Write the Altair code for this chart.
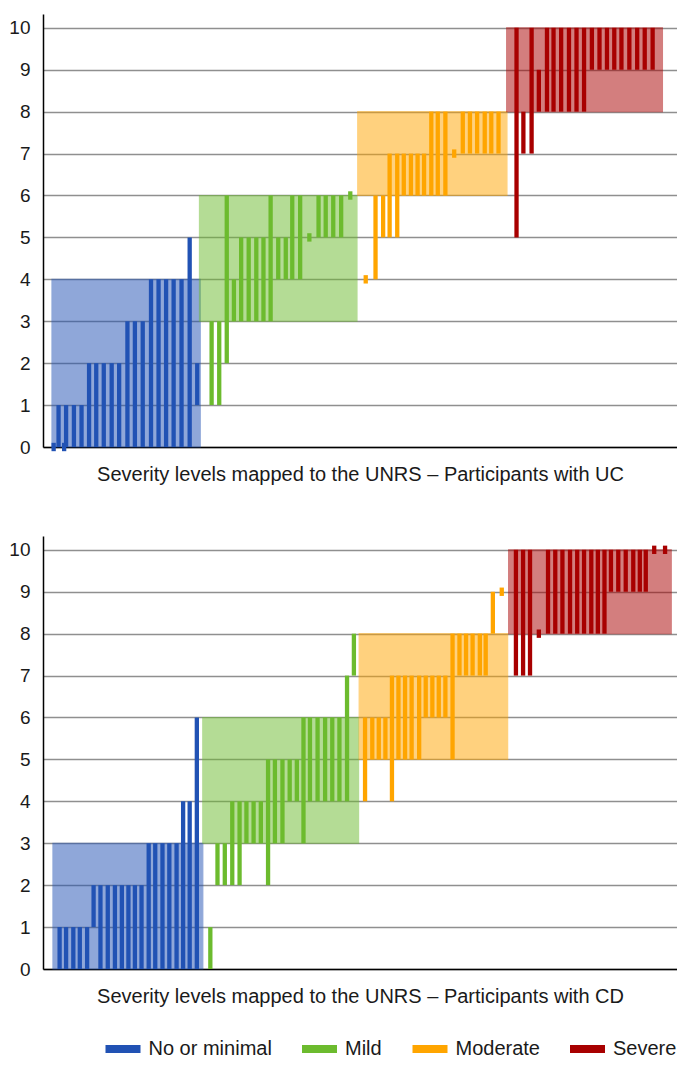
import altair as alt
import pandas as pd

SEVERITY = ["No or minimal", "Mild", "Moderate", "Severe"]
COLORS = ["#2152B4", "#6CBB2E", "#FFA500", "#A80000"]

# --- Participants with UC: position on x, lowest / highest UNRS score ---
UC_NONE_X = [0.35, 1.0, 1.74, 2.0, 3.04, 4.05, 5.05, 6.0, 7.0, 8.05, 9.04,
             10.14, 11.13, 12.17, 13.27, 14.27, 15.27, 16.27, 17.32, 18.4, 19.4]
UC_NONE_LO = [0, 0, 0, 0, 0, 0, 0, 0, 0, 0, 0, 0, 0, 0, 0, 0, 0, 0, 0, 0, 1]
UC_NONE_HI = [0, 1, 0, 1, 1, 1, 2, 2, 2, 2, 2, 3, 3, 3, 4, 4, 4, 4, 4, 5, 2]

UC_MILD_X = [21.31, 22.32, 23.32, 24.27, 25.23, 26.23, 27.24, 28.19, 29.14, 30.15,
             31.15, 32.01, 33.06, 34.28, 35.5, 36.45, 37.45, 38.5, 39.71]
UC_MILD_LO = [1, 1, 2, 3, 3, 3, 3, 3, 3, 4, 4, 4, 4, 5, 5, 5, 5, 5, 6]
UC_MILD_HI = [3, 3, 6, 4, 5, 5, 5, 5, 6, 5, 5, 6, 6, 5, 6, 6, 6, 6, 6]

UC_MOD_X = [41.76, 43.06, 44.07, 44.93, 45.94, 46.81, 47.76, 48.64, 49.5, 50.46,
            51.32, 52.33, 53.5, 54.64, 55.59, 56.54, 57.55, 58.42, 59.38]
UC_MOD_LO = [4, 4, 5, 5, 5, 6, 6, 6, 6, 6, 6, 6, 7, 7, 7, 7, 7, 7, 7]
UC_MOD_HI = [4, 6, 6, 7, 7, 7, 7, 7, 7, 8, 8, 8, 7, 8, 8, 8, 8, 8, 8]

UC_SEV_X = [61.77, 62.68, 63.77, 64.73, 65.81, 66.68, 67.69, 68.73, 69.73, 70.73,
            71.77, 72.78, 73.77, 74.74, 75.69, 76.74, 77.78, 78.78, 79.83]
UC_SEV_LO = [5, 7, 7, 8, 8, 8, 8, 8, 8, 8, 9, 9, 9, 9, 9, 9, 9, 9, 9]
UC_SEV_HI = [10, 8, 10, 9, 10, 10, 10, 10, 10, 10, 10, 10, 10, 10, 10, 10, 10, 10, 10]

# shaded severity bands (x from, x to, UNRS from, UNRS to)
UC_BAND_X0 = [0.13, 19.7, 40.7, 60.46]
UC_BAND_X1 = [19.8, 40.6, 60.5, 81.13]
UC_BAND_LO = [0, 3, 6, 8]
UC_BAND_HI = [4, 6, 8, 10]

# --- Participants with CD ---
CD_NONE_X = [1.14, 2.0, 2.96, 3.82, 4.79, 5.65, 6.56, 7.53, 8.48, 9.4, 10.27,
             11.13, 12.01, 12.96, 13.83, 14.79, 15.7, 16.66, 17.53, 18.4, 19.35]
CD_NONE_LO = [0, 0, 0, 0, 0, 1, 0, 0, 0, 0, 0, 0, 0, 0, 0, 0, 0, 0, 0, 0, 0]
CD_NONE_HI = [1, 1, 1, 1, 1, 2, 2, 2, 2, 2, 2, 2, 2, 3, 3, 3, 3, 3, 4, 4, 6]

CD_MILD_X = [21.14, 22.09, 23.06, 24.05, 25.02, 25.93, 26.88, 27.84, 28.8, 29.71, 30.71,
             31.67, 32.62, 33.5, 34.36, 35.37, 36.37, 37.32, 38.27, 39.28, 40.19]
CD_MILD_LO = [0, 2, 2, 2, 2, 3, 3, 3, 2, 3, 3, 4, 4, 3, 4, 4, 4, 4, 4, 4, 7]
CD_MILD_HI = [1, 3, 3, 4, 4, 4, 4, 4, 5, 5, 5, 5, 5, 6, 6, 6, 6, 6, 6, 7, 8]

CD_MOD_X = [41.67, 42.63, 43.49, 44.37, 45.24, 46.1, 46.98, 47.85, 48.85, 49.72, 50.6,
            51.45, 52.33, 53.28, 54.2, 55.07, 55.94, 56.9, 57.68, 58.63, 59.81]
CD_MOD_LO = [4, 5, 5, 5, 4, 5, 5, 5, 5, 6, 6, 6, 6, 5, 7, 7, 7, 7, 7, 8, 9]
CD_MOD_HI = [6, 6, 6, 6, 7, 7, 7, 7, 7, 7, 7, 7, 7, 8, 8, 8, 8, 8, 8, 9, 9]

CD_SEV_X = [61.69, 62.64, 63.56, 64.73, 65.95, 66.91, 67.86, 68.87, 69.82, 70.73, 71.69,
            72.56, 73.44, 74.3, 75.27, 76.26, 77.26, 78.13, 78.92, 80.04, 81.48]
CD_SEV_LO = [7, 7, 7, 8, 8, 8, 8, 8, 8, 8, 8, 8, 8, 9, 9, 9, 9, 9, 9, 10, 10]
CD_SEV_HI = [10, 10, 10, 8, 10, 10, 10, 10, 10, 10, 10, 10, 10, 10, 10, 10, 10, 10, 10, 10, 10]

CD_BAND_X0 = [0.26, 20.14, 40.89, 60.72]
CD_BAND_X1 = [20.14, 40.81, 60.59, 82.3]
CD_BAND_LO = [0, 3, 5, 8]
CD_BAND_HI = [3, 6, 8, 10]

UC_TITLE = "Severity levels mapped to the UNRS \u2013 Participants with UC"
CD_TITLE = "Severity levels mapped to the UNRS \u2013 Participants with CD"

FONT = "Liberation Sans"
TEXT = "#1a1a1a"


def bars_frame(groups):
    rows = []
    for sev, xs, los, his in groups:
        for x, lo, hi in zip(xs, los, his):
            if lo == hi:
                # single score: small block centred on the value
                lo, hi = lo - 0.1, hi + 0.1
            rows.append({"pos": x, "lo": lo, "hi": hi, "sev": sev})
    return pd.DataFrame(rows)


def bands_frame(x0, x1, lo, hi):
    return pd.DataFrame({"x0": x0, "x1": x1, "lo": lo, "hi": hi, "sev": SEVERITY})


def panel(bars, bands, caption, show_legend):
    xscale = alt.Scale(domain=[-0.4, 82.4], nice=False, zero=False)
    yscale = alt.Scale(domain=[0, 10.33], nice=False)
    color = alt.Scale(domain=SEVERITY, range=COLORS)
    xaxis = alt.Axis(title=caption, labels=False, ticks=False, grid=False,
                     domainColor="black", domainWidth=1.5,
                     titleFont=FONT, titleFontSize=20, titleFontWeight="normal",
                     titleColor=TEXT, titlePadding=17)
    yaxis = alt.Axis(title=None, values=list(range(11)), ticks=False,
                     labelPadding=13, labelFont=FONT, labelFontSize=19,
                     labelColor=TEXT, grid=True, gridColor="#8f8f8f", gridWidth=1.6,
                     domainColor="black", domainWidth=1.5)
    if show_legend:
        # blank title on the left pushes the entries to the right;
        # the wide flat swatch is drawn outside its 10px symbol slot
        legend = alt.Legend(title=" ", titleOrient="left", titlePadding=70,
                            titleFontSize=20, orient="bottom", direction="horizontal",
                            offset=33,
                            symbolType="M-3.5,-0.8H3.5V0.8H-3.5Z", symbolSize=100,
                            symbolStrokeWidth=0, symbolOpacity=1,
                            labelFont=FONT, labelFontSize=20, labelColor=TEXT,
                            labelOffset=15.5, columnPadding=29.5)
    else:
        legend = None

    shade = alt.Chart(bands).mark_rect(opacity=0.5, strokeWidth=1.2).encode(
        x=alt.X("x0:Q", scale=xscale, axis=xaxis),
        x2="x1:Q",
        y=alt.Y("lo:Q", scale=yscale, axis=yaxis),
        y2="hi:Q",
        color=alt.Color("sev:N", scale=color, legend=legend),
        stroke=alt.Stroke("sev:N", scale=color, legend=None),
    )
    ranges = alt.Chart(bars).mark_bar(size=4.3).encode(
        x=alt.X("pos:Q", scale=xscale, axis=xaxis),
        y=alt.Y("lo:Q", scale=yscale, axis=yaxis),
        y2="hi:Q",
        color=alt.Color("sev:N", scale=color, legend=legend),
    )
    return alt.layer(shade, ranges).properties(width=634, height=433)


uc_bars = bars_frame([
    ("No or minimal", UC_NONE_X, UC_NONE_LO, UC_NONE_HI),
    ("Mild", UC_MILD_X, UC_MILD_LO, UC_MILD_HI),
    ("Moderate", UC_MOD_X, UC_MOD_LO, UC_MOD_HI),
    ("Severe", UC_SEV_X, UC_SEV_LO, UC_SEV_HI),
])
cd_bars = bars_frame([
    ("No or minimal", CD_NONE_X, CD_NONE_LO, CD_NONE_HI),
    ("Mild", CD_MILD_X, CD_MILD_LO, CD_MILD_HI),
    ("Moderate", CD_MOD_X, CD_MOD_LO, CD_MOD_HI),
    ("Severe", CD_SEV_X, CD_SEV_LO, CD_SEV_HI),
])

top = panel(uc_bars, bands_frame(UC_BAND_X0, UC_BAND_X1, UC_BAND_LO, UC_BAND_HI),
            UC_TITLE, False)
bottom = panel(cd_bars, bands_frame(CD_BAND_X0, CD_BAND_X1, CD_BAND_LO, CD_BAND_HI),
               CD_TITLE, True)

chart = alt.vconcat(top, bottom, spacing=52).resolve_scale(
    color="independent", stroke="independent"
).resolve_legend(
    color="independent"
).properties(
    padding={"left": 0, "top": 6, "right": 0, "bottom": 0}
).configure_view(stroke=None)

chart.save("out.html", embed_options={"renderer": "svg", "actions": False})
